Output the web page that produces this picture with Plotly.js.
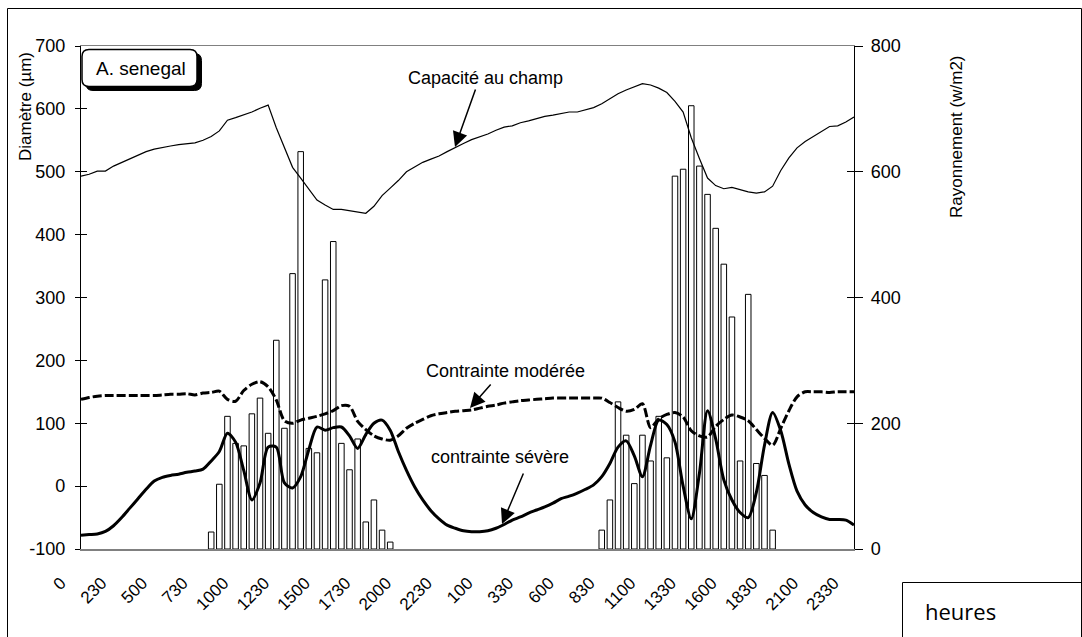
<!DOCTYPE html>
<html>
<head>
<meta charset="utf-8">
<script src="https://cdn.plot.ly/plotly-3.0.1.min.js"></script>
<style>html,body{margin:0;padding:0;background:#fff;}#chart{width:1082px;height:637px;}</style>
</head>
<body>
<div id="chart"></div>
<script>
// ---- data ----
const hoursDay = ["0","30","100","130","200","230","300","330","400","430","500","530","600","630","700","730","800","830","900","930","1000","1030","1100","1130","1200","1230","1300","1330","1400","1430","1500","1530","1600","1630","1700","1730","1800","1830","1900","1930","2000","2030","2100","2130","2200","2230","2300","2330"];
const hours = hoursDay.concat(hoursDay); // two days, half-hour steps

// Rayonnement (w/m2) - bars, right axis
const rayonnement = [null,null,null,null,null,null,null,null,null,null,null,null,null,null,null,null,
  27,103,211,168,164,215,240,184,332,192,438,632,160,153,428,489,168,126,175,43,78,30,11,
  null,null,null,null,null,null,null,null,null,null,null,null,null,null,null,null,null,null,null,null,null,null,null,null,null,
  30,78,234,181,104,181,140,211,145,593,604,705,609,564,510,453,369,140,405,136,117,30,
  null,null,null,null,null,null,null,null,null,null];

// Diamètre (µm) - left axis
const capaciteAuChamp = [493,496,501,501,509,515,521,527,532,536,539,541,543,545,546,550,556,565,582,586,590,595,601,606,570,538,507,490,472,455,447,440,440,438,435,434,445,462,474,486,500,508,515,520,525,532,539,545,
  551,555,560,566,571,573,578,581,585,588,590,593,595,595,598,602,608,616,624,630,635,640,638,633,626,612,595,554,521,490,478,473,475,471,468,466,468,477,502,522,538,548,556,565,572,573,579,587];

const contrainteModeree = [138,141,143,144,144,144,144,144,144,144,145,146,146,147,145,148,149,151,138,135,152,162,166,158,137,104,100,105,108,111,115,120,128,127,103,90,80,75,73,80,92,100,106,112,115,117,119,120,
  121,124,127,129,132,134,136,137,138,139,140,140,140,140,140,140,140,133,125,119,122,131,93,107,114,117,110,88,80,78,95,106,113,110,104,90,76,65,92,120,142,150,150,150,149,150,150,150];

const contrainteSevere = [-78,-77,-76,-72,-63,-50,-35,-20,-5,8,14,17,19,22,24,27,40,55,84,70,25,-22,5,62,62,5,-3,15,58,94,89,93,94,80,60,82,100,105,89,55,25,-1,-22,-39,-52,-62,-67,-71,
  -72.5,-72.5,-71,-67,-61,-54,-49,-43,-38,-33,-27,-20,-16,-11,-5,2,15,36,62,72,48,15,65,105,98,70,0,-52,20,120,75,10,-22,-42,-50,-10,65,117,88,35,-8,-30,-42,-49,-53,-53,-54,-62];

// left axis tick labels (plain hyphen minus as in the original)
const diamTickVals = [-100,0,100,200,300,400,500,600,700];
const diamTickText = ["-100","0","100","200","300","400","500","600","700"];

const tickEvery = 5;
const xIdx = hours.map((h, i) => i);
const tickVals = xIdx.filter(i => i % tickEvery === 0);
const tickText = tickVals.map(i => hours[i]);

// ---- layout helpers (pixel -> paper) ----
const M = {l: 81, r: 228, t: 46, b: 88};
const W = 1082, H = 637;
const PW = W - M.l - M.r, PH = H - M.t - M.b;
const px = v => (v - M.l) / PW;
const py = v => (H - M.b - v) / PH;
function roundRect(x0, y0, x1, y1, r) {
  const P = (a, b) => px(a) + ',' + py(b);
  return 'M' + P(x0 + r, y0) + ' L' + P(x1 - r, y0) + ' Q' + P(x1, y0) + ' ' + P(x1, y0 + r) +
    ' L' + P(x1, y1 - r) + ' Q' + P(x1, y1) + ' ' + P(x1 - r, y1) +
    ' L' + P(x0 + r, y1) + ' Q' + P(x0, y1) + ' ' + P(x0, y1 - r) +
    ' L' + P(x0, y0 + r) + ' Q' + P(x0, y0) + ' ' + P(x0 + r, y0) + ' Z';
}

const FONT = 'Liberation Sans, Arial, sans-serif';

const traces = [
  {type: 'bar', x: xIdx, y: rayonnement, yaxis: 'y', name: 'Rayonnement',
   marker: {color: '#ffffff', line: {color: '#000000', width: 1}}, hoverinfo: 'skip'},
  {type: 'scatter', mode: 'lines', x: xIdx, y: capaciteAuChamp, yaxis: 'y2', name: 'Capacité au champ',
   line: {color: '#000000', width: 1.2}},
  {type: 'scatter', mode: 'lines', x: xIdx, y: contrainteModeree, yaxis: 'y2', name: 'Contrainte modérée',
   line: {color: '#000000', width: 3, dash: '9px,3px', shape: 'spline', smoothing: 0.8}},
  {type: 'scatter', mode: 'lines', x: xIdx, y: contrainteSevere, yaxis: 'y2', name: 'contrainte sévère',
   line: {color: '#000000', width: 3, shape: 'spline', smoothing: 0.8}},
  {type: 'scatter', mode: 'lines', x: [null], y: [null], yaxis: 'y3', showlegend: false, hoverinfo: 'skip'},
  {type: 'scatter', mode: 'lines', x: [null], y: [null], yaxis: 'y4', showlegend: false, hoverinfo: 'skip'}
];

const tickFont = {family: FONT, size: 18, color: '#000'};

const layout = {
  width: W, height: H,
  margin: M,
  paper_bgcolor: '#fff', plot_bgcolor: '#fff',
  showlegend: false,
  bargap: 0.32,
  font: {family: FONT, color: '#000'},
  xaxis: {range: [0, 95], tickmode: 'array', tickvals: tickVals, ticktext: tickText,
    tickangle: -45, ticks: '', showline: true, linecolor: '#808080', linewidth: 1.5, mirror: true,
    showgrid: false, zeroline: false, tickfont: {family: FONT, size: 17, color: '#000'},
    ticklabelstandoff: 16, ticklabelshift: -20},
  yaxis: {range: [0, 800], dtick: 200, side: 'right', showline: true, linecolor: '#000', linewidth: 1.2,
    ticks: 'outside', ticklen: 8, tickcolor: '#000', showgrid: false, zeroline: false, tickfont: tickFont,
    ticklabelstandoff: 4},
  yaxis2: {range: [-100, 700], tickmode: 'array', tickvals: diamTickVals, ticktext: diamTickText,
    overlaying: 'y', side: 'left', showline: true, linecolor: '#000',
    linewidth: 1.2, ticks: 'outside', ticklen: 5, tickcolor: '#000', showgrid: false, zeroline: false,
    tickfont: tickFont, ticklabelstandoff: 6},
  yaxis3: {range: [0, 800], dtick: 200, overlaying: 'y', side: 'right', showline: false, ticks: 'inside',
    ticklen: 7, tickcolor: '#000', showticklabels: false, showgrid: false, zeroline: false},
  yaxis4: {range: [-100, 700], dtick: 100, overlaying: 'y', side: 'left', showline: false, ticks: 'inside',
    ticklen: 6, tickcolor: '#000', showticklabels: false, showgrid: false, zeroline: false},
  shapes: [
    {type: 'rect', xref: 'paper', yref: 'paper', x0: px(7.5), x1: px(1081.5), y0: py(8.5), y1: py(645),
     line: {color: '#000', width: 1}, layer: 'below'},
    {type: 'rect', xref: 'paper', yref: 'paper', x0: px(902.5), x1: px(1095), y0: py(582.5), y1: py(650),
     line: {color: '#000', width: 1}},
    {type: 'path', xref: 'paper', yref: 'paper', path: roundRect(86, 53.5, 201.5, 90.5, 7),
     fillcolor: '#000', line: {color: '#000', width: 1}},
    {type: 'path', xref: 'paper', yref: 'paper', path: roundRect(82, 49.5, 197, 86.5, 7),
     fillcolor: '#fff', line: {color: '#000', width: 1.5}}
  ],
  annotations: [
    {xref: 'paper', yref: 'paper', x: px(25), y: py(107), text: 'Diamètre (µm)', textangle: -90,
     showarrow: false, xanchor: 'center', yanchor: 'middle', font: {family: FONT, size: 17, color: '#000'}},
    {xref: 'paper', yref: 'paper', x: px(956), y: py(137), text: 'Rayonnement (w/m2)', textangle: -90,
     showarrow: false, xanchor: 'center', yanchor: 'middle', font: {family: FONT, size: 17, color: '#000'}},
    {xref: 'paper', yref: 'paper', x: px(141), y: py(68), text: 'A. senegal', showarrow: false,
     xanchor: 'center', yanchor: 'middle', font: {family: FONT, size: 19, color: '#000'}},
    {xref: 'paper', yref: 'paper', x: px(485), y: py(78), text: 'Capacité au champ', showarrow: false,
     xanchor: 'center', yanchor: 'middle', font: {family: FONT, size: 18, color: '#000'}},
    {xref: 'paper', yref: 'paper', x: px(505), y: py(371), text: 'Contrainte modérée', showarrow: false,
     xanchor: 'center', yanchor: 'middle', font: {family: FONT, size: 18, color: '#000'}},
    {xref: 'paper', yref: 'paper', x: px(500), y: py(457), text: 'contrainte sévère', showarrow: false,
     xanchor: 'center', yanchor: 'middle', font: {family: FONT, size: 18, color: '#000'}},
    {xref: 'paper', yref: 'paper', x: px(960), y: py(611), text: 'heures', showarrow: false,
     xanchor: 'center', yanchor: 'middle', font: {family: 'Open Sans, Noto Sans, sans-serif', size: 22, color: '#000'}},
    {xref: 'paper', yref: 'paper', x: px(455), y: py(147), text: '', showarrow: true, ax: 21, ay: -59,
     arrowhead: 2, arrowsize: 2, arrowwidth: 1.5, arrowcolor: '#000', standoff: 0},
    {xref: 'paper', yref: 'paper', x: px(470), y: py(408), text: '', showarrow: true, ax: 22, ay: -25,
     arrowhead: 2, arrowsize: 2, arrowwidth: 1.5, arrowcolor: '#000', standoff: 0},
    {xref: 'paper', yref: 'paper', x: px(502), y: py(524), text: '', showarrow: true, ax: 22, ay: -52,
     arrowhead: 2, arrowsize: 2, arrowwidth: 1.5, arrowcolor: '#000', standoff: 0}
  ]
};

Plotly.newPlot('chart', traces, layout, {displayModeBar: false, staticPlot: true});
</script>
</body>
</html>
